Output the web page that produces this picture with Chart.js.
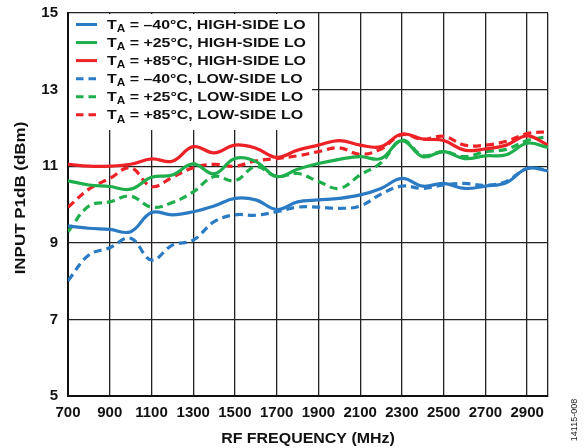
<!DOCTYPE html>
<html>
<head>
<meta charset="utf-8">
<script src="https://cdn.jsdelivr.net/npm/chart.js@4.4.1/dist/chart.umd.min.js"></script>
<style>
  html, body { margin: 0; padding: 0; background: #fff; }
  #wrap { width: 586px; height: 448px; }
</style>
</head>
<body>
<div id="wrap"><canvas id="chart-p1db"></canvas></div>
<script>
// RF frequency (MHz)
const freq = [700, 800, 900, 1000, 1100, 1200, 1300, 1400, 1500, 1600, 1700, 1800,
              1900, 2000, 2100, 2200, 2300, 2400, 2500, 2600, 2700, 2800, 2900, 3000];

// input P1dB (dBm), high-side LO
const hiM40 = [9.44, 9.38, 9.35, 9.29, 9.79, 9.73, 9.81, 9.96, 10.16, 10.12, 9.87, 10.07,
               10.12, 10.16, 10.25, 10.42, 10.68, 10.48, 10.55, 10.42, 10.48, 10.57, 10.94, 10.88];
const hiP25 = [10.62, 10.51, 10.47, 10.40, 10.71, 10.77, 11.06, 10.80, 11.20, 11.12, 10.73, 10.92,
               11.07, 11.18, 11.25, 11.20, 11.67, 11.25, 11.38, 11.20, 11.27, 11.30, 11.60, 11.49];
const hiP85 = [11.05, 11.00, 11.00, 11.05, 11.19, 11.13, 11.51, 11.35, 11.55, 11.47, 11.23, 11.42,
               11.55, 11.67, 11.55, 11.51, 11.84, 11.71, 11.67, 11.42, 11.45, 11.55, 11.79, 11.55];

// input P1dB (dBm), low-side LO
const loM40 = [8.01, 8.68, 8.87, 9.12, 8.55, 8.94, 9.07, 9.55, 9.73, 9.72, 9.81, 9.93,
               9.93, 9.90, 9.96, 10.27, 10.48, 10.42, 10.51, 10.55, 10.50, 10.60, 10.94, 10.90];
const loP25 = [9.29, 9.96, 10.07, 10.22, 9.93, 10.05, 10.33, 10.73, 10.62, 10.99, 10.73, 10.81,
               10.60, 10.42, 10.77, 11.09, 11.68, 11.28, 11.38, 11.25, 11.38, 11.44, 11.67, 11.77];
const loP85 = [9.93, 10.40, 10.68, 10.96, 10.47, 10.71, 10.96, 11.05, 11.00, 11.14, 11.20, 11.27,
               11.38, 11.48, 11.31, 11.45, 11.82, 11.70, 11.78, 11.55, 11.55, 11.65, 11.85, 11.90];

const yTicks = [5, 7, 9, 11, 13, 15];
const xTicks = [700, 900, 1100, 1300, 1500, 1700, 1900, 2100, 2300, 2500, 2700, 2900];

const BLUE = '#2a7bc4', GREEN = '#1eae4b', RED = '#ec2227';
const FONT = "'Liberation Sans', Arial, sans-serif";

const pts = (vals) => vals.map((v, i) => ({ x: freq[i], y: v }));

const series = [
  { temp: '–40°C', side: 'HIGH', vals: hiM40, color: BLUE, dash: [] },
  { temp: '+25°C', side: 'HIGH', vals: hiP25, color: GREEN, dash: [] },
  { temp: '+85°C', side: 'HIGH', vals: hiP85, color: RED, dash: [] },
  { temp: '–40°C', side: 'LOW', vals: loM40, color: BLUE, dash: [8, 5] },
  { temp: '+25°C', side: 'LOW', vals: loP25, color: GREEN, dash: [8, 5] },
  { temp: '+85°C', side: 'LOW', vals: loP85, color: RED, dash: [8, 5] }
];

// the reference type is a touch wider than Liberation Sans, so stretch it a little
const wideText = (ctx, text, x, y, sx) => {
  ctx.save();
  ctx.translate(x, y);
  ctx.scale(sx, 1);
  ctx.fillText(text, 0, 0);
  ctx.restore();
  return ctx.measureText(text).width * sx;
};

// legend box with T subscript A, over the grid but under the curves; axis titles
const legendPlugin = {
  id: 'subLegend',
  beforeDatasetsDraw(chart) {
    const { ctx, chartArea } = chart;
    ctx.save();
    ctx.fillStyle = '#fff';
    ctx.fillRect(chartArea.left + 1, chartArea.top + 1, 312 - chartArea.left - 1, 130 - chartArea.top - 1);
    series.forEach((s, i) => {
      const y = 24.5 + i * 18.05;
      ctx.beginPath();
      ctx.strokeStyle = s.color;
      ctx.lineWidth = 3;
      ctx.setLineDash(s.dash.length ? [7.5, 5] : []);
      ctx.moveTo(76, y);
      ctx.lineTo(97, y);
      ctx.stroke();
      ctx.setLineDash([]);
      ctx.fillStyle = '#111';
      ctx.textBaseline = 'middle';
      ctx.font = 'bold 13.5px ' + FONT;
      let x = 107;
      x += wideText(ctx, 'T', x, y + 1, 1.18);
      ctx.font = 'bold 10px ' + FONT;
      x += wideText(ctx, 'A', x, y + 5, 1.18);
      ctx.font = 'bold 13.5px ' + FONT;
      wideText(ctx, ' = ' + s.temp + ', ' + s.side + '-SIDE LO', x, y + 1, 1.18);
    });
    ctx.restore();
  },
  afterDraw(chart) {
    const { ctx, chartArea } = chart;
    ctx.save();
    ctx.fillStyle = '#111';
    ctx.textAlign = 'center';
    ctx.textBaseline = 'middle';
    ctx.font = 'bold 14.5px ' + FONT;
    wideText(ctx, 'RF FREQUENCY (MHz)', (chartArea.left + chartArea.right) / 2, 438.5, 1.1);
    ctx.save();
    ctx.translate(20.5, 198);
    ctx.rotate(-Math.PI / 2);
    wideText(ctx, 'INPUT P1dB (dBm)', 0, 0, 1.17);
    ctx.restore();
    ctx.translate(575, 420);
    ctx.rotate(-Math.PI / 2);
    ctx.fillStyle = '#222';
    ctx.font = '9px ' + FONT;
    ctx.fillText('14115-008', 0, 0);
    ctx.restore();
  }
};

let ctx = document.getElementById('chart-p1db').getContext('2d');

let p1dbChart = new Chart(ctx, {
  type: 'line',
  data: {
    datasets: series.map(s => ({
      label: 'TA = ' + s.temp + ', ' + s.side + '-SIDE LO',
      data: pts(s.vals),
      borderColor: s.color,
      borderWidth: 3.2,
      borderDash: s.dash,
      pointRadius: 0,
      tension: 0.4,
      fill: false
    }))
  },
  options: {
    responsive: true,
    maintainAspectRatio: false,
    animation: false,
    layout: { padding: { left: 0, right: 38, top: 13, bottom: 0 } },
    plugins: { legend: { display: false }, tooltip: { enabled: false } },
    scales: {
      x: {
        type: 'linear',
        min: 700,
        max: 3000,
        afterBuildTicks: (scale) => { scale.ticks = xTicks.map(v => ({ value: v })).concat([{ value: 3000 }]); },
        afterFit: (scale) => { scale.height = 52; scale.paddingLeft = 0; scale.paddingRight = 0; },
        ticks: {
          color: '#111',
          font: { family: FONT, size: 15, weight: 'bold' },
          maxRotation: 0,
          autoSkip: false,
          padding: 8,
          callback: (v) => v === 3000 ? '' : v
        },
        grid: { color: '#222', lineWidth: 1.3, drawTicks: false },
        border: { color: '#111', width: 2 }
      },
      y: {
        min: 5,
        max: 15,
        afterBuildTicks: (scale) => { scale.ticks = yTicks.map(v => ({ value: v })); },
        afterFit: (scale) => { scale.width = 68; scale.paddingTop = 0; scale.paddingBottom = 0; },
        ticks: {
          color: '#111',
          font: { family: FONT, size: 15, weight: 'bold' },
          padding: 10
        },
        grid: { color: '#222', lineWidth: 1.3, drawTicks: false },
        border: { color: '#111', width: 2 }
      }
    }
  },
  plugins: [legendPlugin]
});
</script>
</body>
</html>
